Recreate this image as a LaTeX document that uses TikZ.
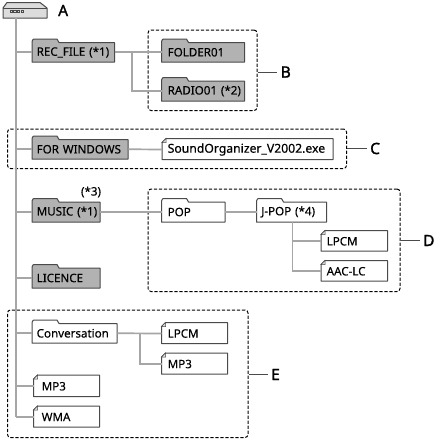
\documentclass[tikz,border=0pt]{standalone}
\usepackage{fontspec}
\setmainfont{Noto Sans}
\newfontfamily\callf[FakeBold=1.6]{Noto Sans}
\newfontfamily\itemf[FakeBold=0.25]{Noto Sans}
\definecolor{conn}{HTML}{A6A6A6}
\definecolor{edge}{HTML}{4A4A4A}
\definecolor{grayfill}{HTML}{B2B2B2}
\definecolor{devfill}{HTML}{DCDCDC}
\tikzset{
  conn/.style={draw=conn,line width=1.7pt},
  leader/.style={draw=edge,line width=1pt},
  shapeline/.style={draw=edge,line width=1pt,line join=round},
  itemtext/.style={anchor=west,inner xsep=4.5pt,inner ysep=0pt,align=left,font=\itemf\fontsize{11.6}{13}\selectfont},
  group/.style={draw=black,dash pattern=on 3.2pt off 1.8pt,line width=1pt,rounded corners=3pt,anchor=north west,inner sep=0pt},
  callout/.style={anchor=west,inner xsep=3.5pt,inner ysep=0pt,font=\callf\fontsize{15.5}{17}\selectfont},
}
% name, x1, ytop of body, x2, ybottom, fill, text
\newcommand{\folderitem}[7]{%
  \path[shapeline,fill=#6] (#2,#5) -- (#2,#3-1) -- (#2+1,#3-3) -- (#2+2,#3-3.5) -- (#2+25,#3-3.5) -- (#2+27,#3) -- (#4,#3) -- (#4,#5) -- cycle;
  \node[itemtext,text width=#4-#2-9,minimum height=#5-#3] (#1) at (#2,{(#3+#5)/2}) {\mbox{#7}};
}
% name, x1, ytop, x2, ybottom, text
\newcommand{\fileitem}[6]{%
  \path[shapeline,fill=white] (#2,#5) -- (#2,#3+4) -- (#2+4,#3) -- (#4,#3) -- (#4,#5) -- cycle;
  \path[draw=edge,line width=.5pt,fill=devfill] (#2,#3+4) -- (#2+4,#3+4) -- (#2+4,#3) -- cycle;
  \node[itemtext,text width=#4-#2-9,minimum height=#5-#3] (#1) at (#2,{(#3+#5)/2+.5}) {\mbox{#6}};
}
\newcommand{\ins}[1]{\hspace*{#1pt}}
\begin{document}
\begin{tikzpicture}[x=1pt,y=-1pt]
\useasboundingbox (0,0) rectangle (438,440);
\fill[white] (0,0) rectangle (438,440);

\coordinate (root) at (16,18);
\coordinate (trunkend) at (16,416.5);

\folderitem{rec}{32}{42.5}{114.5}{62}{grayfill}{REC\_FILE (*1)}
\folderitem{folder}{161.5}{42.5}{244.5}{62}{grayfill}{\ins{1.5}FOLDER01}
\folderitem{radio}{161.5}{81}{244.5}{101}{grayfill}{\ins{1.5}RADIO01 (*2)}
\folderitem{win}{32}{139.5}{128}{159}{grayfill}{FOR WINDOWS}
\fileitem{sound}{162}{138.5}{333}{159.5}{\ins{1}\fontsize{12.2}{13}\selectfont SoundOrganizer\_V2002.exe}
\folderitem{music}{32}{202}{100}{222}{grayfill}{MUSIC (*1)}
\folderitem{pop}{161.5}{202}{225}{222}{white}{\ins{1.5}POP}
\folderitem{jpop}{256.5}{202}{326.5}{222}{white}{J-POP (*4)}
\fileitem{lpcmd}{321}{230.5}{387.5}{251}{\ins{1}LPCM}
\fileitem{aac}{321}{260.5}{387.5}{281}{\ins{1}AAC-LC}
\folderitem{lic}{32}{268}{100}{288}{grayfill}{LICENCE}
\folderitem{conv}{32}{323.5}{117}{343}{white}{Conversation}
\fileitem{lpcme}{161.5}{322.5}{227.5}{343.5}{\ins{1.5}LPCM}
\fileitem{mpe}{161.5}{353}{227.5}{374}{\ins{1.5}MP3}
\fileitem{mpa}{33.5}{375}{99.5}{396.5}{\ins{3.5}MP3}
\fileitem{wma}{33.5}{406}{99.5}{427}{\ins{3.5}WMA}

\node[itemtext,anchor=center,inner sep=0pt] (note) at (91,192) {(*3)};

% device
\path[shapeline,fill=devfill] (3,18) -- (3,8) -- (7,2.5) -- (40,2.5) -- (47,8) -- (47,18) -- cycle;
\draw[edge,line width=.6pt] (3,8) -- (47,8);
\foreach \i in {10,13.7,17.4,21.1} \draw[edge,line width=.7pt] (\i,10) rectangle (\i+2.4,12.4);

% callouts
\node[callout] (la) at (54.5,10.5) {A};
\node[callout] (lb) at (277,72) {B};
\node[callout] (lc) at (366.5,148.5) {C};
\node[callout] (ld) at (419.5,240.5) {D};
\node[callout] (le) at (267.5,374.5) {E};

% dashed groups
\node[group,minimum width=109pt,minimum height=80.5pt] (gb) at (147.5,29.5) {};
\node[group,minimum width=339pt,minimum height=39.5pt] (gc) at (7,128.5) {};
\node[group,minimum width=252pt,minimum height=102.5pt] (gd) at (147.5,188.5) {};
\node[group,minimum width=240.5pt,minimum height=127.5pt] (ge) at (7,309.5) {};

% junctions
\coordinate (jrec) at (132,0);
\coordinate (jctpop) at (292.5,0);
\coordinate (jconv) at (140,0);

% connectors
\begin{scope}[every path/.append style={conn}]
\path (root) -- (trunkend);
\path (root |- rec.west) -- (rec.west);
\path (root |- win.west) -- (win.west);
\path (root |- music.west) -- (music.west);
\path (root |- lic.west) -- (lic.west);
\path (root |- conv.west) -- (conv.west);
\path (root |- mpa.west) -- (mpa.west);
\path (root |- wma.west) -- (wma.west);
\path (rec.east) -- (folder.west);
\path (jrec |- rec.east) -- (jrec |- radio.west) -- (radio.west);
\path (win.east) -- (sound.west);
\path (music.east) -- (pop.west);
\path (pop.east) -- (jpop.west);
\path (jctpop |- jpop.south) -- (jctpop |- aac.west) -- (aac.west);
\path (jctpop |- lpcmd.west) -- (lpcmd.west);
\path (conv.east) -- (lpcme.west);
\path (jconv |- conv.east) -- (jconv |- mpe.west) -- (mpe.west);
\end{scope}

% leaders
\path[leader] (gb.east |- lb.west) -- (lb.west);
\path[leader] (gc.east |- lc.west) -- (lc.west);
\path[leader] (gd.east |- ld.west) -- (ld.west);
\path[leader] (ge.east |- le.west) -- (le.west);
\end{tikzpicture}
\end{document}
